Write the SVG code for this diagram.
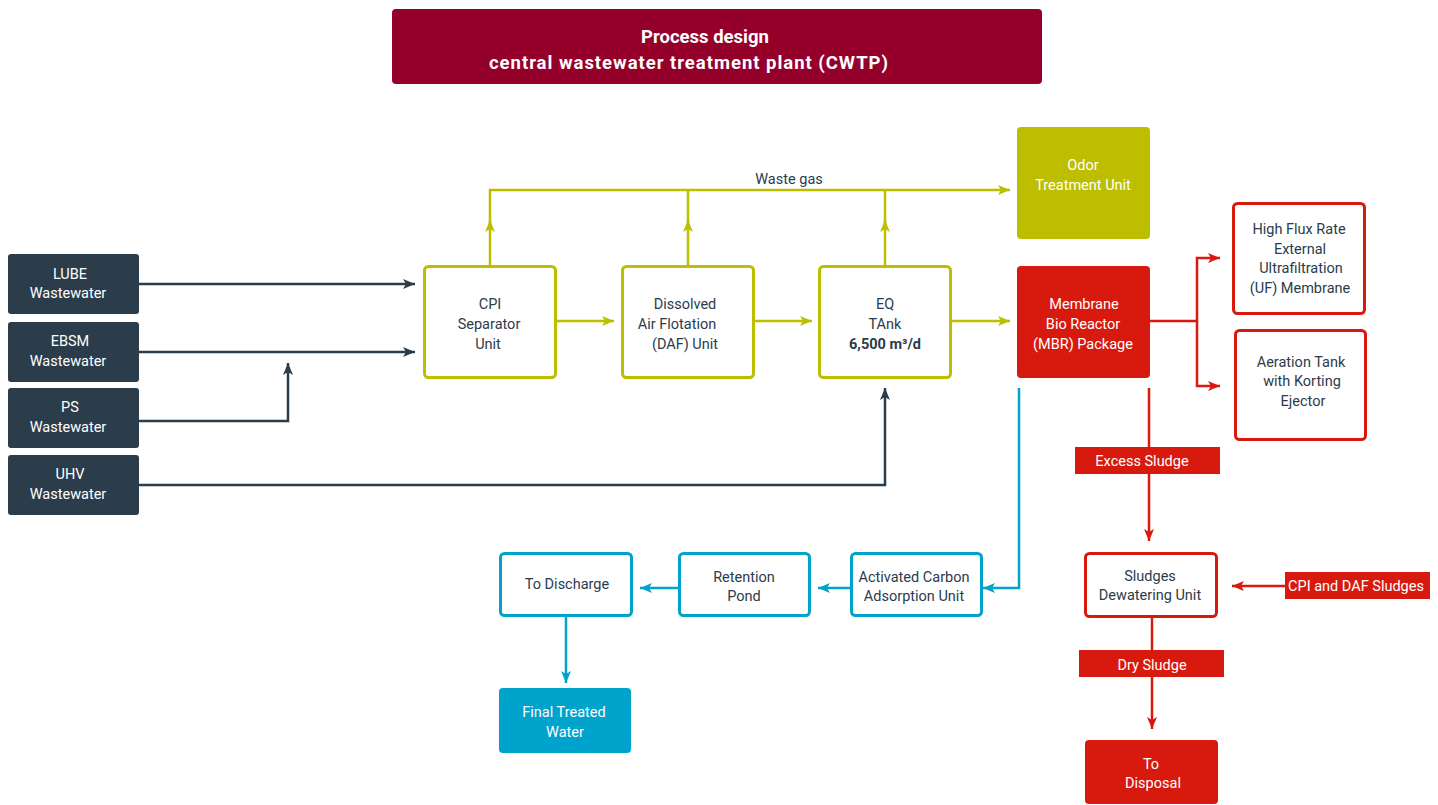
<svg xmlns="http://www.w3.org/2000/svg" width="1438" height="805" viewBox="0 0 1438 805">
<defs>
<style>
text{font-family:Roboto,"Liberation Sans",sans-serif;font-size:14.5px;text-anchor:middle}
.w{fill:#ffffff}
.d{fill:#2b3c4b}
.title{font-size:18.5px;font-weight:bold;fill:#ffffff}
.src{fill:#2b3c4b;rx:3}
.ol{fill:#ffffff;stroke:#bdbe00;stroke-width:3}
.rd{fill:#ffffff;stroke:#d8190e;stroke-width:3}
.bl{fill:#ffffff;stroke:#00a3cc;stroke-width:3}
.cn{stroke:#2b3c4b;stroke-width:2.5;fill:none}
.co{stroke:#bdbe00;stroke-width:2.5;fill:none}
.cr{stroke:#d8190e;stroke-width:2.5;fill:none}
.cb{stroke:#00a3cc;stroke-width:2.5;fill:none}
</style>
<marker id="an" markerUnits="userSpaceOnUse" markerWidth="13" markerHeight="10" refX="12" refY="5" orient="auto"><path d="M0,0 L12,5 L0,10 L3,5 Z" fill="#2b3c4b"/></marker>
<marker id="ao" markerUnits="userSpaceOnUse" markerWidth="13" markerHeight="10" refX="12" refY="5" orient="auto"><path d="M0,0 L12,5 L0,10 L3,5 Z" fill="#bdbe00"/></marker>
<marker id="ar" markerUnits="userSpaceOnUse" markerWidth="13" markerHeight="10" refX="12" refY="5" orient="auto"><path d="M0,0 L12,5 L0,10 L3,5 Z" fill="#d8190e"/></marker>
<marker id="ab" markerUnits="userSpaceOnUse" markerWidth="13" markerHeight="10" refX="12" refY="5" orient="auto"><path d="M0,0 L12,5 L0,10 L3,5 Z" fill="#00a3cc"/></marker>
</defs>
<rect width="1438" height="805" fill="#ffffff"/>

<g id="title">
<rect x="392" y="9" width="650" height="75" rx="4" fill="#95002b"/>
<text class="title" x="705" y="43">Process design</text>
<text class="title" x="688.5" y="69" textLength="399" lengthAdjust="spacing">central wastewater treatment plant (CWTP)</text>
</g>

<g id="connectors">
<path class="cn" d="M139,284 H415" marker-end="url(#an)"/>
<path class="cn" d="M139,352 H415" marker-end="url(#an)"/>
<path class="cn" d="M139,421 H288 V363" marker-end="url(#an)"/>
<path class="cn" d="M139,485 H885 V388" marker-end="url(#an)"/>
<path class="co" d="M490,266 V220" marker-end="url(#ao)"/>
<path class="co" d="M688,266 V220" marker-end="url(#ao)"/>
<path class="co" d="M885,266 V220" marker-end="url(#ao)"/>
<path class="co" d="M490,225 V190 H1010" marker-end="url(#ao)"/>
<path class="co" d="M688,225 V190"/>
<path class="co" d="M885,225 V190"/>
<path class="co" d="M556,321 H614" marker-end="url(#ao)"/>
<path class="co" d="M754,321 H812" marker-end="url(#ao)"/>
<path class="co" d="M951,321 H1010" marker-end="url(#ao)"/>
<path class="cr" d="M1150,321 H1197 V258 H1220" marker-end="url(#ar)"/>
<path class="cr" d="M1197,321 V386 H1220" marker-end="url(#ar)"/>
<path class="cr" d="M1149,388 V541" marker-end="url(#ar)"/>
<path class="cr" d="M1285,586 H1232" marker-end="url(#ar)"/>
<path class="cr" d="M1152,617 V729" marker-end="url(#ar)"/>
<path class="cb" d="M1019,388 V588 H983" marker-end="url(#ab)"/>
<path class="cb" d="M851,588 H818" marker-end="url(#ab)"/>
<path class="cb" d="M679,588 H640" marker-end="url(#ab)"/>
<path class="cb" d="M566,616 V683" marker-end="url(#ab)"/>
<text class="d" x="789" y="184">Waste gas</text>
</g>

<g id="lube">
<rect class="src" x="8" y="254" width="131" height="60" rx="3"/>
<text class="w" x="70" y="279">LUBE</text>
<text class="w" x="68" y="298">Wastewater</text>
</g>
<g id="ebsm">
<rect class="src" x="8" y="322" width="131" height="60" rx="3"/>
<text class="w" x="70" y="346">EBSM</text>
<text class="w" x="68" y="366">Wastewater</text>
</g>
<g id="ps">
<rect class="src" x="8" y="388" width="131" height="60" rx="3"/>
<text class="w" x="70" y="412">PS</text>
<text class="w" x="68" y="432">Wastewater</text>
</g>
<g id="uhv">
<rect class="src" x="8" y="455" width="131" height="60" rx="3"/>
<text class="w" x="70" y="479">UHV</text>
<text class="w" x="68" y="499">Wastewater</text>
</g>

<g id="cpi">
<rect class="ol" x="424.5" y="266.5" width="131" height="111" rx="4"/>
<text class="d" x="490" y="309">CPI</text>
<text class="d" x="489" y="329">Separator</text>
<text class="d" x="488" y="349">Unit</text>
</g>
<g id="daf">
<rect class="ol" x="622.5" y="266.5" width="131" height="111" rx="4"/>
<text class="d" x="685" y="309">Dissolved</text>
<text class="d" x="677" y="329">Air Flotation</text>
<text class="d" x="685" y="349">(DAF) Unit</text>
</g>
<g id="eq">
<rect class="ol" x="819.5" y="266.5" width="131" height="111" rx="4"/>
<text class="d" x="885" y="309">EQ</text>
<text class="d" x="885" y="329">TAnk</text>
<text class="d" x="885" y="349" font-weight="bold">6,500 m³/d</text>
</g>
<g id="odor">
<rect x="1017" y="127" width="133" height="112" rx="4" fill="#bdbe00"/>
<text class="w" x="1083" y="170">Odor</text>
<text class="w" x="1083" y="190">Treatment Unit</text>
</g>
<g id="mbr">
<rect x="1017" y="266" width="133" height="112" rx="4" fill="#d8190e"/>
<text class="w" x="1084" y="309">Membrane</text>
<text class="w" x="1083" y="329">Bio Reactor</text>
<text class="w" x="1083" y="349">(MBR) Package</text>
</g>
<g id="uf">
<rect class="rd" x="1233.5" y="203.5" width="131" height="110" rx="4"/>
<text class="d" x="1299" y="234">High Flux Rate</text>
<text class="d" x="1300" y="254">External</text>
<text class="d" x="1301" y="273">Ultrafiltration</text>
<text class="d" x="1300" y="293">(UF) Membrane</text>
</g>
<g id="aeration">
<rect class="rd" x="1235.5" y="330.5" width="130" height="109" rx="4"/>
<text class="d" x="1301" y="367">Aeration Tank</text>
<text class="d" x="1302" y="386">with Korting</text>
<text class="d" x="1303" y="406">Ejector</text>
</g>
<g id="excess">
<rect x="1075" y="447" width="145" height="27" fill="#d8190e"/>
<text class="w" x="1142" y="466">Excess Sludge</text>
</g>
<g id="dewatering">
<rect class="rd" x="1085.5" y="553.5" width="131" height="63" rx="4"/>
<text class="d" x="1150" y="581">Sludges</text>
<text class="d" x="1150" y="600">Dewatering Unit</text>
</g>
<g id="cpidaf">
<rect x="1285" y="572" width="145" height="27" fill="#d8190e"/>
<text class="w" x="1356" y="591">CPI and DAF Sludges</text>
</g>
<g id="dry">
<rect x="1079" y="650" width="145" height="27" fill="#d8190e"/>
<text class="w" x="1152" y="670">Dry Sludge</text>
</g>
<g id="disposal">
<rect x="1085" y="740" width="133" height="64" rx="4" fill="#d8190e"/>
<text class="w" x="1151" y="769">To</text>
<text class="w" x="1153" y="788">Disposal</text>
</g>
<g id="carbon">
<rect class="bl" x="851.5" y="553.5" width="130" height="62" rx="4"/>
<text class="d" x="914" y="582">Activated Carbon</text>
<text class="d" x="914" y="601">Adsorption Unit</text>
</g>
<g id="pond">
<rect class="bl" x="679.5" y="553.5" width="130" height="62" rx="4"/>
<text class="d" x="744" y="582">Retention</text>
<text class="d" x="744" y="601">Pond</text>
</g>
<g id="discharge">
<rect class="bl" x="500.5" y="553.5" width="131" height="62" rx="4"/>
<text class="d" x="567" y="589">To Discharge</text>
</g>
<g id="final">
<rect x="499" y="688" width="132" height="65" rx="4" fill="#00a3cc"/>
<text class="w" x="564" y="717">Final Treated</text>
<text class="w" x="565" y="737">Water</text>
</g>
</svg>
